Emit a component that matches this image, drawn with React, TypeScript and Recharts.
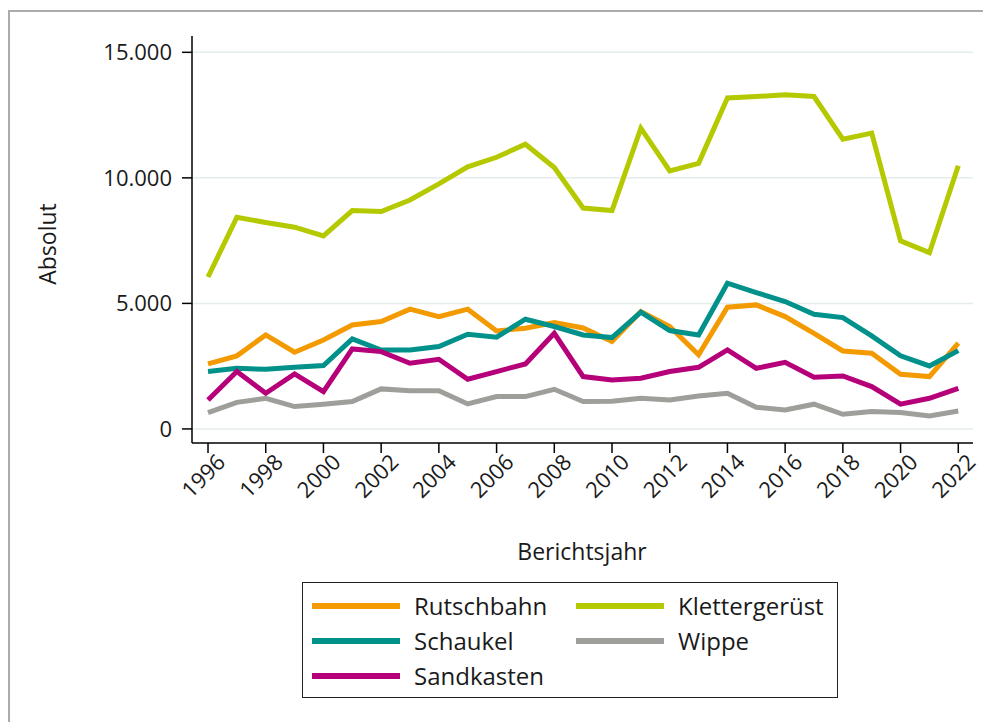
import React from 'react';
import { LineChart, Line, XAxis, YAxis, CartesianGrid } from 'recharts';

const years = [1996, 1997, 1998, 1999, 2000, 2001, 2002, 2003, 2004, 2005, 2006, 2007, 2008, 2009, 2010, 2011, 2012, 2013, 2014, 2015, 2016, 2017, 2018, 2019, 2020, 2021, 2022];
const rutschbahn = [2590, 2910, 3745, 3055, 3545, 4140, 4275, 4770, 4475, 4770, 3905, 4010, 4235, 4020, 3480, 4675, 4080, 2950, 4850, 4940, 4475, 3810, 3105, 3015, 2180, 2085, 3415];
const schaukel = [2285, 2415, 2375, 2455, 2525, 3585, 3145, 3145, 3280, 3770, 3655, 4370, 4080, 3745, 3640, 4650, 3920, 3745, 5805, 5430, 5075, 4570, 4435, 3705, 2910, 2510, 3120];
const sandkasten = [1155, 2285, 1420, 2190, 1485, 3185, 3080, 2615, 2775, 1980, 2285, 2590, 3810, 2085, 1950, 2020, 2285, 2455, 3145, 2415, 2655, 2060, 2110, 1685, 985, 1220, 1620];
const klettergeruest = [6050, 8430, 8220, 8035, 7690, 8700, 8660, 9120, 9760, 10440, 10820, 11340, 10410, 8800, 8700, 11980, 10280, 10580, 13180, 13240, 13310, 13240, 11540, 11780, 7490, 7020, 10480];
const wippe = [650, 1060, 1220, 890, 985, 1090, 1595, 1525, 1525, 995, 1290, 1290, 1580, 1090, 1100, 1220, 1155, 1315, 1420, 865, 755, 985, 585, 690, 650, 520, 715];

const xTicks = [1996, 1998, 2000, 2002, 2004, 2006, 2008, 2010, 2012, 2014, 2016, 2018, 2020, 2022];
const yTicks = [0, 5000, 10000, 15000];

const series = [
  { key: 'rutschbahn', name: 'Rutschbahn', color: '#F39A00', values: rutschbahn },
  { key: 'schaukel', name: 'Schaukel', color: '#00918B', values: schaukel },
  { key: 'sandkasten', name: 'Sandkasten', color: '#B5007A', values: sandkasten },
  { key: 'klettergeruest', name: 'Klettergerüst', color: '#B5C900', values: klettergeruest },
  { key: 'wippe', name: 'Wippe', color: '#9E9E9A', values: wippe },
];

const data = years.map((year, i) => {
  const row: Record<string, number> = { year };
  series.forEach((s) => { row[s.key] = s.values[i]; });
  return row;
});

const FONT = '"Open Sans", sans-serif';
const TEXT = '#1a1a1a';

const fmt = (v: number) => v.toLocaleString('de-DE');

const XTick = (props: any) => {
  const { x, y, payload } = props;
  return (
    <g transform={`translate(${x + 7},${y - 3})`}>
      <text transform="rotate(-45)" textAnchor="end" dy="0.75em" fontSize={22} fontFamily={FONT} fill={TEXT}>
        {payload.value}
      </text>
    </g>
  );
};

const legendLayout = [
  { idx: 0, col: 0, row: 0 },
  { idx: 1, col: 0, row: 1 },
  { idx: 2, col: 0, row: 2 },
  { idx: 3, col: 1, row: 0 },
  { idx: 4, col: 1, row: 1 },
];

export default function App() {
  return (
    <div style={{ position: 'fixed', left: 0, top: 0, width: 983, height: 722, overflow: 'hidden', background: '#fff' }}>
      <div style={{ position: 'absolute', left: 8, top: 10, width: 990, height: 720, borderTop: '2px solid #ababab', borderLeft: '2px solid #ababab' }} />
      <div style={{ position: 'absolute', left: 0, top: 0 }}>
        <LineChart width={983} height={722} data={data} margin={{ top: 36, right: 10, bottom: 179, left: 0 }}>
          <CartesianGrid vertical={false} stroke="#e4ecec" strokeWidth={1.5} horizontalValues={yTicks} />
          <XAxis
            dataKey="year"
            type="number"
            domain={[1995.445, 2022.51]}
            ticks={xTicks}
            allowDataOverflow
            height={100}
            tickSize={10}
            tickLine={{ stroke: '#000', strokeWidth: 1.5 }}
            axisLine={{ stroke: '#000', strokeWidth: 1.5 }}
            tick={<XTick />}
            interval={0}
            label={() => (
              <text x={582} y={551} textAnchor="middle" dominantBaseline="central" fontSize={23} fontFamily={FONT} fill={TEXT}>
                Berichtsjahr
              </text>
            )}
          />
          <YAxis
            type="number"
            domain={[-560, 15650]}
            ticks={yTicks}
            allowDataOverflow
            width={192}
            tickSize={10}
            tickMargin={10}
            tickFormatter={fmt}
            tick={{ fontSize: 22, fontFamily: FONT, fill: TEXT }}
            tickLine={{ stroke: '#000', strokeWidth: 1.5 }}
            axisLine={{ stroke: '#000', strokeWidth: 1.5 }}
            interval={0}
            label={() => (
              <text x={47} y={244} transform="rotate(-90 47 244)" textAnchor="middle" dominantBaseline="central" fontSize={23} fontFamily={FONT} fill={TEXT}>
                Absolut
              </text>
            )}
          />
          {series.map((s) => (
            <Line
              key={s.key}
              dataKey={s.key}
              name={s.name}
              stroke={s.color}
              strokeWidth={5}
              dot={false}
              activeDot={false}
              type="linear"
              isAnimationActive={false}
            />
          ))}
        </LineChart>
      </div>
      <div style={{ position: 'absolute', left: 302, top: 582, width: 536, height: 116, border: '1.5px solid #222', boxSizing: 'border-box' }}>
        {legendLayout.map(({ idx, col, row }) => {
          const s = series[idx];
          const left = col === 0 ? 9 : 273;
          const top = 23 + row * 35;
          return (
            <div key={s.key}>
              <div style={{ position: 'absolute', left, top: top - 3, width: 88, height: 6, background: s.color }} />
              <div style={{ position: 'absolute', left: left + 102, top: top - 17, height: 34, lineHeight: '34px', fontSize: 24, fontFamily: FONT, color: TEXT, whiteSpace: 'nowrap' }}>
                {s.name}
              </div>
            </div>
          );
        })}
      </div>
    </div>
  );
}
